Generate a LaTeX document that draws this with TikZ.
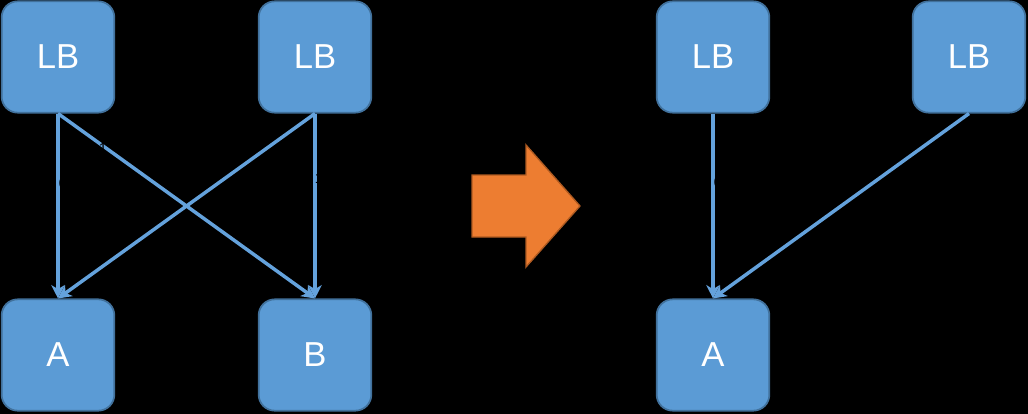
\documentclass[tikz,border=0pt]{standalone}
\usepackage{fontspec}
\setmainfont{Liberation Sans}
\usetikzlibrary{arrows.meta}
\definecolor{boxfill}{RGB}{91,155,213}
\definecolor{boxline}{RGB}{65,113,156}
\definecolor{edgecol}{RGB}{100,162,220}
\definecolor{orfill}{RGB}{237,125,49}
\definecolor{orline}{RGB}{174,90,33}
\tikzset{
  box/.style={draw=boxline, fill=boxfill, line width=1.3pt, rounded corners=12pt,
    minimum width=84.5pt, minimum height=83.5pt, inner sep=0pt,
    text=white, font=\fontsize{26}{30}\selectfont},
  link/.style={draw=edgecol, line width=2.6pt, -{Stealth[length=10pt,width=10pt,inset=3pt]}},
  elabel/.style={text=black, font=\fontsize{11}{13}\selectfont, inner sep=1pt}
}
\begin{document}
\begin{tikzpicture}[x=0.75pt,y=-0.75pt]
\fill[black] (0,0) rectangle (1028,414);
\useasboundingbox (0,0) rectangle (1028,414);
% left panel
\node[box] (lb1) at (58,57) {LB};
\node[box] (lb2) at (315,57) {LB};
\node[box] (a1) at (58,355) {A};
\node[box] (b1) at (315,355) {B};
\draw[link] (lb1.south) -- (a1.north);
\draw[link] (lb1.south) -- (b1.north);
\draw[link] (lb2.south) -- (a1.north);
\draw[link] (lb2.south) -- (b1.north);
\node[elabel] (l0) at (63,183) {0};
\node[elabel] (l1) at (103,148) {1};
\node[elabel] (l2) at (319,178) {1};
% orange arrow
\filldraw[fill=orfill, draw=orline, line width=1pt]
  (472,175) -- (526,175) -- (526,145) -- (580,206) -- (526,267) -- (526,237) -- (472,237) -- cycle;
% right panel
\node[box] (lb3) at (713,57) {LB};
\node[box] (lb4) at (969,57) {LB};
\node[box] (a2) at (713,355) {A};
\draw[link] (lb3.south) -- (a2.north);
\draw[link] (lb4.south) -- (a2.north);
\node[elabel] (l3) at (718,182) {0};
\end{tikzpicture}
\end{document}
